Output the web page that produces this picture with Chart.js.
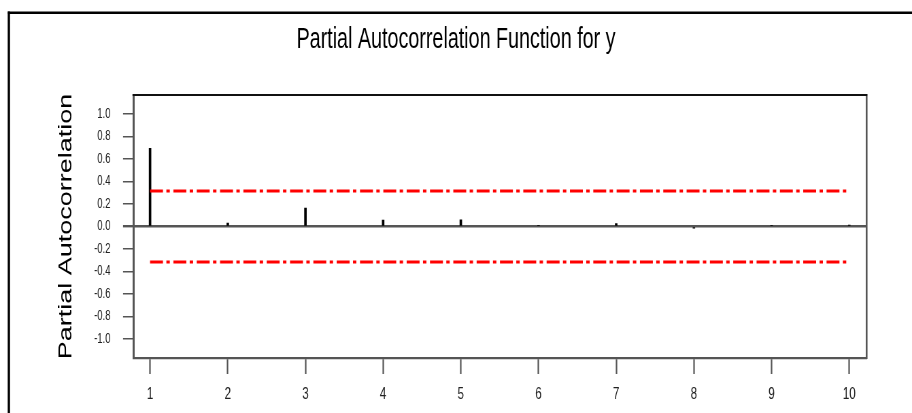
<!DOCTYPE html>
<html>
<head>
<meta charset="utf-8">
<title>Partial Autocorrelation Function for y</title>
<script src="https://cdn.jsdelivr.net/npm/chart.js@4/dist/chart.umd.min.js"></script>
<style>
  html, body { margin: 0; padding: 0; background: #fff; overflow: hidden; }
  /* The drawing surface is wider than the page and squeezed to 912px,
     which gives the tall, narrow lettering of the original plot style. */
  #pacf { display: block; width: 912px !important; height: 413px !important; }
</style>
</head>
<body>
<canvas id="pacf" width="1341" height="413" style="width:912px;height:413px"></canvas>
<script>
// Lags and partial autocorrelation estimates
const lags = [1, 2, 3, 4, 5, 6, 7, 8, 9, 10];
const pacf = [0.695, 0.03, 0.163, 0.058, 0.06, 0.01, 0.026, -0.015, 0.01, 0.012];
// Approximate 95% significance limits (2/sqrt(n), n = 40)
const confLimit = 0.316;
// Tick positions
const yTicks = [-1.0, -0.8, -0.6, -0.4, -0.2, 0.0, 0.2, 0.4, 0.6, 0.8, 1.0];
const xTicks = lags;

const FONT = "'Liberation Sans', Arial, Helvetica, sans-serif";
const AXIS_GREY = '#555';

// White page, the outer frame and the black top edge of the plot box
const framePlugin = {
  id: 'frame',
  beforeDraw(chart) {
    const ctx = chart.ctx;
    ctx.save();
    ctx.fillStyle = '#fff';
    ctx.fillRect(0, 0, chart.width, chart.height);
    ctx.strokeStyle = '#000';
    ctx.lineWidth = 2.4;
    ctx.beginPath();
    ctx.moveTo(11.5, 12.8);
    ctx.lineTo(chart.width, 12.8);
    ctx.stroke();
    ctx.lineWidth = 3.4;
    ctx.beginPath();
    ctx.moveTo(13, 11.6);
    ctx.lineTo(13, chart.height);
    ctx.stroke();
    ctx.restore();
  },
  afterDraw(chart) {
    const a = chart.chartArea;
    const ctx = chart.ctx;
    ctx.save();
    ctx.strokeStyle = '#111';
    ctx.lineWidth = 2.2;
    ctx.beginPath();
    ctx.moveTo(a.left - 1.5, a.top);
    ctx.lineTo(a.right + 1.2, a.top);
    ctx.stroke();
    ctx.restore();
  }
};

const isZero = c => c.tick && Math.abs(c.tick.value) < 1e-9;

new Chart(document.getElementById('pacf'), {
  type: 'bar',
  data: {
    datasets: [
      {
        type: 'line',
        data: [{ x: lags[0], y: confLimit }, { x: lags[lags.length - 1], y: confLimit }],
        borderColor: '#ff0000',
        borderWidth: 3,
        borderDash: [19, 5, 5, 5.3],
        borderCapStyle: 'butt',
        pointRadius: 0,
        fill: false,
        order: 0
      },
      {
        type: 'line',
        data: [{ x: lags[0], y: -confLimit }, { x: lags[lags.length - 1], y: -confLimit }],
        borderColor: '#ff0000',
        borderWidth: 3,
        borderDash: [19, 5, 5, 5.3],
        borderCapStyle: 'butt',
        pointRadius: 0,
        fill: false,
        order: 0
      },
      {
        type: 'bar',
        data: lags.map((x, i) => ({ x: x, y: pacf[i] })),
        backgroundColor: '#000',
        borderWidth: 0,
        barThickness: 3,
        order: 1
      }
    ]
  },
  options: {
    responsive: false,
    animation: false,
    devicePixelRatio: 1,
    layout: { padding: 0 },
    plugins: {
      legend: { display: false },
      tooltip: { enabled: false },
      title: {
        display: true,
        text: 'Partial Autocorrelation Function for y',
        color: '#000',
        font: { family: FONT, size: 29, weight: 'normal', lineHeight: 1.2 },
        padding: { top: 22.9, bottom: 37.3 }
      }
    },
    scales: {
      x: {
        type: 'linear',
        position: 'bottom',
        min: 0.787,
        max: 10.221,
        offset: false,
        afterBuildTicks: s => { s.ticks = xTicks.map(v => ({ value: v })); },
        afterFit: s => { s.height = 55; },
        grid: {
          display: true,
          drawOnChartArea: false,
          offset: false,
          tickLength: 16,
          tickColor: AXIS_GREY,
          tickWidth: 2.2
        },
        border: { display: true, color: AXIS_GREY, width: 2.2 },
        ticks: {
          autoSkip: false,
          maxRotation: 0,
          padding: 10,
          color: '#222',
          font: { family: FONT, size: 17 },
          callback: v => String(v)
        }
      },
      y: {
        type: 'linear',
        position: 'left',
        min: -1.17,
        max: 1.17,
        afterBuildTicks: s => { s.ticks = yTicks.map(v => ({ value: v })); },
        afterFit: s => { s.width = 196.3; },
        grid: {
          display: true,
          drawOnChartArea: true,
          color: c => isZero(c) ? AXIS_GREY : 'rgba(0,0,0,0)',
          lineWidth: c => isZero(c) ? 2.4 : 1.5,
          tickColor: AXIS_GREY,
          tickWidth: c => isZero(c) ? 2.4 : 1.5,
          tickLength: 15.4
        },
        border: { display: true, color: AXIS_GREY, width: 3 },
        ticks: {
          autoSkip: false,
          padding: 18.4,
          color: '#222',
          font: { family: FONT, size: 14 },
          callback: v => v.toFixed(1)
        },
        title: {
          display: true,
          text: 'Partial Autocorrelation',
          color: '#000',
          font: { family: FONT, size: 27, weight: 'normal', lineHeight: 1.2 },
          padding: { top: 81.6, bottom: 0 }
        }
      },
      frameRight: {
        type: 'linear',
        position: 'right',
        display: true,
        afterFit: s => { s.width = 67; },
        grid: { display: false },
        ticks: { display: false },
        border: { display: true, color: AXIS_GREY, width: 2.6 }
      }
    }
  },
  plugins: [framePlugin]
});
</script>
</body>
</html>
